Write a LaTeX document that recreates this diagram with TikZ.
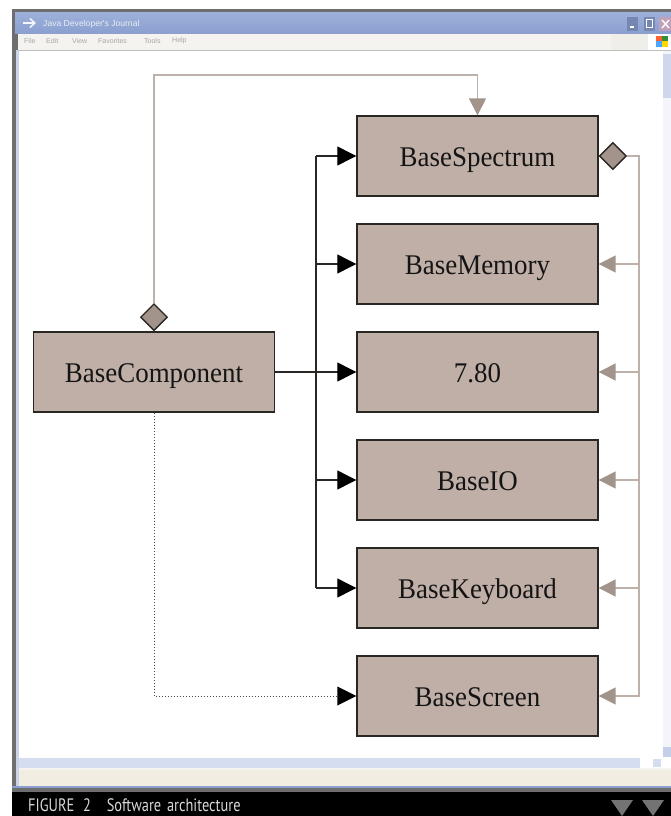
\documentclass[tikz,border=0pt]{standalone}
\usepackage{fontspec}
\setmainfont[FakeStretch=0.945]{Liberation Serif}
\newfontfamily\capfont[FakeStretch=0.8]{PT Sans}
\newfontfamily\uifont{Liberation Sans}
\usetikzlibrary{arrows.meta,shapes.geometric}
\definecolor{boxfill}{HTML}{BFAFA7}
\definecolor{boxline}{HTML}{2A2624}
\definecolor{tipgrey}{HTML}{A2938B}
\definecolor{linegrey}{HTML}{BDB2AB}
\definecolor{bluebar}{HTML}{8A9FCF}
\definecolor{bluebarhi}{HTML}{9DB0DA}
\definecolor{frame}{HTML}{6E6E70}
\definecolor{menubg}{HTML}{F5F3EF}
\definecolor{statusbg}{HTML}{F1EDE0}
\definecolor{scrollbg}{HTML}{D5DEF0}
\tikzset{
  x=1pt,y=-1pt,
  compbox/.style={draw=boxline,fill=boxfill,line width=1.4pt,minimum width=241pt,minimum height=80pt,
    inner sep=0pt,text height=20pt,text depth=0pt,font=\fontsize{28.5}{30}\selectfont,text=black!92},
  dia/.style={diamond,draw=boxline,fill=tipgrey,line width=1.3pt,minimum width=27pt,minimum height=27pt,inner sep=0pt},
  solidlink/.style={draw=boxline,line width=1.2pt,-{Triangle[length=19pt,width=19pt,color=black]}},
  dotlink/.style={draw=black!70,line width=1pt,dotted,-{Triangle[length=19pt,width=19pt,color=black,line width=0pt,sep=0pt]}},
  greylink/.style={draw=linegrey,line width=1.6pt,-{Triangle[length=17pt,width=17pt,color=tipgrey]}},
  menutext/.style={font=\uifont\fontsize{7}{8}\selectfont,text=black!35,inner sep=0pt},
}
\begin{document}
\begin{tikzpicture}
\useasboundingbox (0,0) rectangle (671,816);
\fill[white] (0,0) rectangle (671,816);
% window chrome
\fill[frame] (12,9) rectangle (671,792);
\fill[white] (19,50) rectangle (671,792);
\fill[frame] (12,50) rectangle (16,792);
\fill[bluebarhi!55!white] (16,50) rectangle (19,786);
\shade[top color=bluebarhi,bottom color=bluebar] (15,13) rectangle (671,34);
\fill[menubg] (18,34) rectangle (671,50);
\fill[statusbg!80!black!10!menubg] (611,34) rectangle (648,50);
\fill[white] (648,34) rectangle (671,50);
\draw[black!25,line width=1pt] (18,50.5) -- (671,50.5);
\fill[white!70!scrollbg] (663,51) rectangle (671,757);
\fill[bluebarhi!50!white] (663,54) rectangle (671,98);
\fill[scrollbg] (19,758) rectangle (640,768);
\fill[white] (640,758) rectangle (661,768);
\fill[scrollbg] (653,759) rectangle (661,767);
\fill[bluebarhi!60!white] (663,747) rectangle (671,757);
\fill[menubg] (19,768) rectangle (671,770);
\fill[statusbg] (19,770) rectangle (671,786);
\fill[bluebar] (12,786) rectangle (671,788);
\fill[frame] (12,788) rectangle (671,792);
\fill[black] (12,792) rectangle (671,816);
% window buttons
\fill[bluebar!85!black] (627,17) rectangle (638,31);
\fill[white] (630,26) rectangle (634,28);
\fill[bluebar!85!black] (644,17) rectangle (655,31);
\draw[white,line width=1pt] (646.5,20) rectangle (652.5,28);
\fill[red!25!bluebar!70!white] (659,17) rectangle (671,31);
\draw[white,line width=1.4pt] (662,20) -- (669,28) (669,20) -- (662,28);
% flag
\fill[red!55!orange!80!white] (656,36) rectangle (661.5,41);
\fill[green!45!black!80!white] (662,36) rectangle (667.5,41);
\fill[blue!50!cyan!70!white] (656,41.5) rectangle (661.5,47);
\fill[yellow!75!orange] (662,41.5) rectangle (667.5,47);
% title and menu texts
\draw[white!90!bluebar,line width=1.5pt,-{Straight Barb[length=5pt,width=9pt]}] (23,23) -- (36,23);
\node[anchor=west,inner sep=0pt,text=white!80!bluebar,font=\uifont\fontsize{8.6}{9}\selectfont] (title) at (43,24.5) {Java Developer's Journal};
\node[menutext,anchor=west] (mfile) at (24,41) {File};
\node[menutext,anchor=west] (medit) at (46,41) {Edit};
\node[menutext,anchor=west] (mview) at (72,41) {View};
\node[menutext,anchor=west] (mfav) at (98,41) {Favorites};
\node[menutext,anchor=west] (mtools) at (144,41) {Tools};
\node[menutext,anchor=west] (mhelp) at (172,41) {Help};
% caption
\node[anchor=base west,inner sep=0pt,text=white!85!black,font=\capfont\fontsize{18}{19}\selectfont] (caption) at (28,811) {FIGURE\hspace{5pt} 2\hspace{12pt} Software\hspace{2pt} architecture};
\fill[black!55] (611,800) -- (633,800) -- (622,816) -- cycle;
\fill[black!55] (642,800) -- (664,800) -- (653,816) -- cycle;
% boxes
\node[compbox] (comp) at (154,372) {BaseComponent};
\node[compbox] (spec) at (477.5,156) {BaseSpectrum};
\node[compbox] (mem) at (477.5,264) {BaseMemory};
\node[compbox] (z80) at (477.5,372) {7.80};
\node[compbox] (io) at (477.5,480) {BaseIO};
\node[compbox] (kbd) at (477.5,588) {BaseKeyboard};
\node[compbox] (scr) at (477.5,696) {BaseScreen};
% diamonds
\node[dia,anchor=south] (dtop) at (comp.north) {};
\node[dia,anchor=west] (dright) at (spec.east) {};
\coordinate (bus) at (316,372);
\coordinate (rail) at (639,156);
\coordinate (corner) at (154,75);
% grey connectors
\draw[greylink] (dtop.north) -- (corner) -| (spec.north);
\draw[draw=linegrey,line width=1.6pt] (dright.east) -- (rail) -- (rail |- kbd);
\foreach \t in {mem,z80,io,kbd}{
  \draw[greylink] (rail |- \t) -- (\t.east);
}
\draw[greylink] (rail |- kbd) |- (scr.east);
% black connectors
\draw[solidlink] (comp.east) -- (z80.west);
\draw[draw=boxline,line width=1.2pt] (bus |- spec) -- (bus |- kbd);
\foreach \t in {spec,mem,io,kbd}{
  \draw[solidlink] (bus |- \t) -- (\t.west);
}
\draw[dotlink] (comp.south) |- (scr.west);
\end{tikzpicture}
\end{document}
